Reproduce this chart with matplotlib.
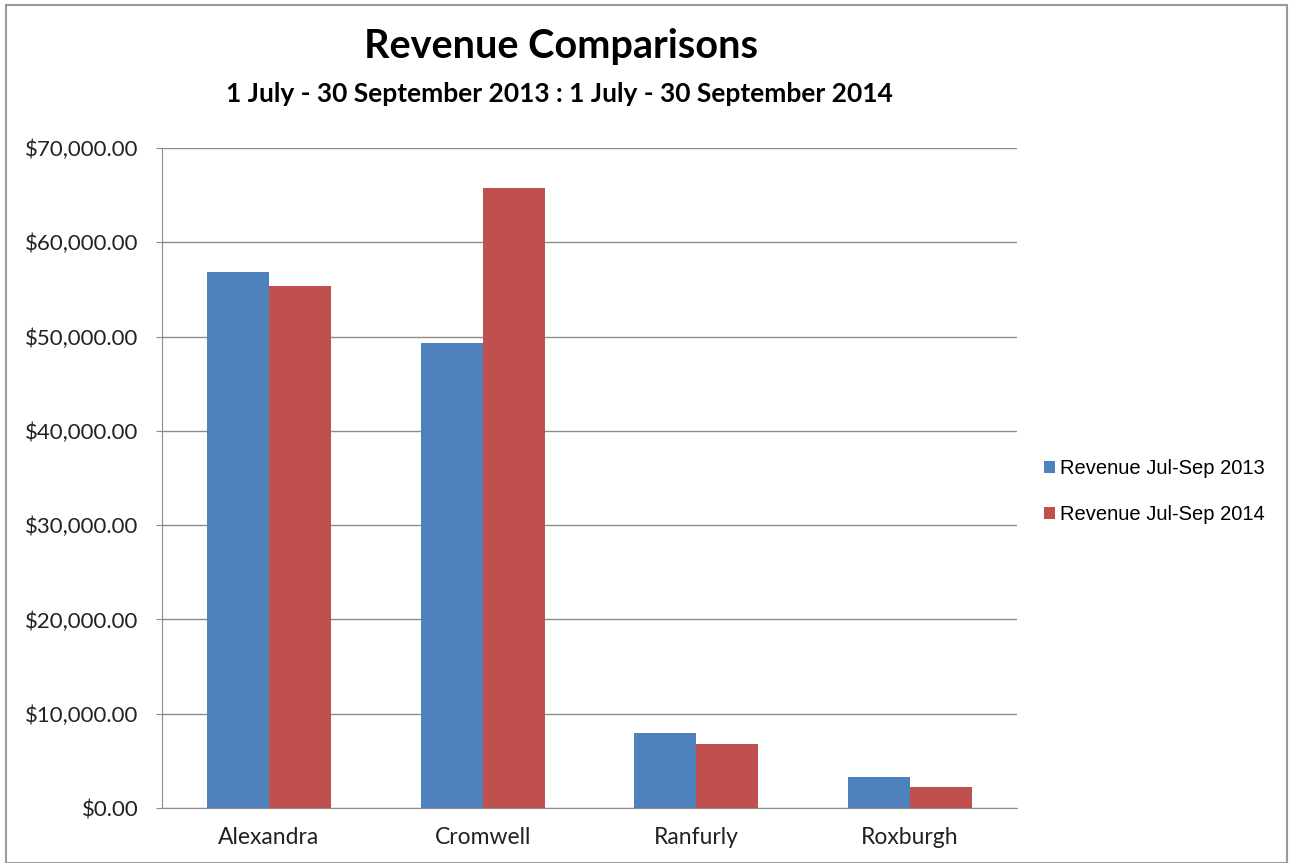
import numpy as np
import matplotlib.pyplot as plt
from matplotlib.patches import Rectangle
from matplotlib.ticker import FuncFormatter

# Quarterly revenue per branch
branches = ["Alexandra", "Cromwell", "Ranfurly", "Roxburgh"]
revenue_2013 = [56800, 49300, 7980, 3330]
revenue_2014 = [55350, 65750, 6810, 2270]
series_names = ["Revenue Jul-Sep 2013", "Revenue Jul-Sep 2014"]
yticks = np.arange(0, 70001, 10000)

BLUE = "#4F81BD"
RED = "#C0504D"
GRID = "#8C8C8C"

fig = plt.figure(figsize=(12.9, 8.63), dpi=100)
ax = fig.add_axes([0.1256, 0.0637, 0.6628, 0.7648])

x = np.arange(len(branches))
w = 0.29
ax.bar(x - w / 2, revenue_2013, width=w, color=BLUE, label=series_names[0], zorder=3)
ax.bar(x + w / 2, revenue_2014, width=w, color=RED, label=series_names[1], zorder=3)

ax.set_xlim(-0.5, len(branches) - 0.5)
ax.set_ylim(0, 70000)
ax.set_yticks(yticks)
ax.yaxis.set_major_formatter(FuncFormatter(lambda v, p: f"${v:,.2f}"))
ax.set_xticks(x)
ax.set_xticklabels(branches, family="Lato", fontsize=16.5, color="#222222")
for lbl in ax.get_yticklabels():
    lbl.set_family("Lato")
    lbl.set_fontsize(16)
    lbl.set_color("#222222")

ax.grid(axis="y", color=GRID, linewidth=1, zorder=0)
for s in ["top", "right"]:
    ax.spines[s].set_visible(False)
ax.spines["left"].set_color(GRID)
ax.spines["bottom"].set_color(GRID)
ax.tick_params(axis="y", length=4, color=GRID, pad=13)
ax.tick_params(axis="x", length=0, pad=14)

fig.text(0.435, 0.9328, "Revenue Comparisons", ha="center", va="baseline",
         family="Lato", fontweight="bold", fontsize=28.5)
fig.text(0.434, 0.8818, "1 July - 30 September 2013 : 1 July - 30 September 2014",
         ha="center", va="baseline", family="Lato", fontweight="bold", fontsize=19)

ax.legend(loc="center left", bbox_to_anchor=(1.01, 0.479), frameon=False,
          prop={"family": "Liberation Sans", "size": 14.5},
          handlelength=0.55, handleheight=0.55, handletextpad=0.25, labelspacing=1.35)

# thin frame round the whole chart
fig.patches.append(Rectangle((0.005, 0.0), 0.993, 0.994, transform=fig.transFigure,
                             fill=False, edgecolor="#9A9A9A", linewidth=1.5))

fig.savefig("out.png", dpi=100)
